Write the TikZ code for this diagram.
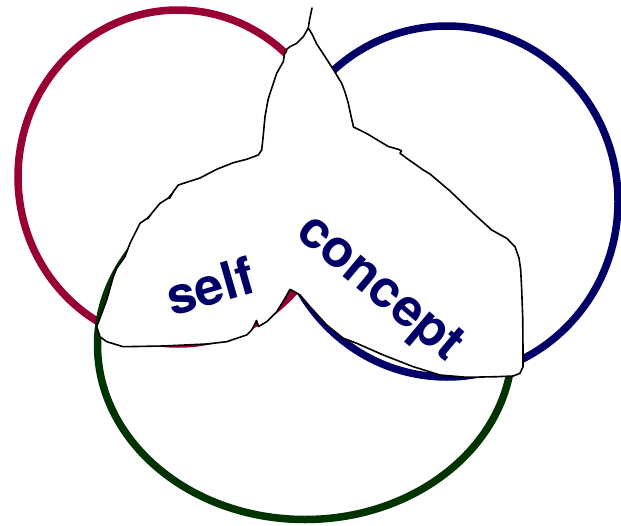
\documentclass[tikz,border=0pt]{standalone}
\usepackage{fontspec}
\setsansfont{TeX Gyre Heros}
\definecolor{ringred}{HTML}{990033}
\definecolor{ringblue}{HTML}{000066}
\definecolor{ringgreen}{HTML}{003300}
\definecolor{labelnavy}{HTML}{000066}
\begin{document}
\begin{tikzpicture}[x=1pt,y=-1pt,
  ring/.style={line width=7.5pt},
  blob/.style={fill=white,draw=black,line width=1.6pt,line join=round,line cap=round},
  word/.style={text=labelnavy,font=\sffamily\bfseries\fontsize{52}{52}\selectfont,inner sep=0pt}]
\useasboundingbox (0,0) rectangle (621,525);
\draw[ring,ringred] (178,177) ellipse [x radius=160pt, y radius=167pt];
\draw[ring,ringblue] (447,201.5) ellipse [x radius=171pt, y radius=175.5pt];
\draw[ring,ringgreen] (305,345) ellipse [x radius=207.5pt, y radius=174.5pt];
\coordinate (J) at (308.3,28);
\coordinate (T) at (312,8);
\draw[blob] (J) -- (312,34) -- (316.7,44) -- (322,52) -- (333,69) -- (341.7,83.3) -- (345,92)
  -- (348.3,103.3) -- (351,116) -- (353.5,127) -- (366.7,133.5) -- (388.3,146.5) -- (399,149.5)
  -- (401.5,151) -- (400,153.3) -- (406.7,158.3) -- (423.3,170) -- (430,174) -- (450,191)
  -- (473.3,213.3) -- (491.7,230) -- (506.7,238.3) -- (515,246.7) -- (519,258) -- (520.7,270)
  -- (521.7,290) -- (522.7,316.7) -- (523,350) -- (523,366.7) -- (520,373.3) -- (513.3,376)
  -- (496.7,376.7) -- (466.7,377.3) -- (440,375) -- (413.3,366.7) -- (383.3,355) -- (356.7,343.3)
  -- (346.7,339.5) -- (343.3,338.3) -- (326.7,325) -- (310,306.7) -- (300,295) -- (296.7,293)
  -- (290,289.3) -- (285,298.3) -- (276.7,311.7) -- (266.7,321.7) -- (258.5,326.5) -- (256.5,320.5)
  -- (253.3,327) -- (251.7,330) -- (246.7,335) -- (236.7,338.3) -- (226.7,341.7) -- (206.7,344)
  -- (163.3,346) -- (123.3,346.7) -- (106.7,341.7) -- (100,336.7) -- (96.7,326.7) -- (100,318)
  -- (106.7,300) -- (113.3,276.7) -- (116.7,268.3) -- (125,256.7) -- (130,243.3) -- (136.7,230)
  -- (140,223.3) -- (147,218.5) -- (151,214.5) -- (147.5,219) -- (151.7,213.3) -- (160,203.3)
  -- (168,198.3) -- (173,192.5) -- (169.5,198.5) -- (173.3,191.7) -- (178.3,185) -- (200,178)
  -- (216.7,169.3) -- (233.3,162.7) -- (246.7,159.3) -- (258.3,155) -- (261.7,150) -- (263.3,135)
  -- (265,116.7) -- (268,100) -- (270,93.3) -- (276.7,73.3) -- (283.3,61.7) -- (284.5,54)
  -- (286,52) -- (287,49) -- (290,46.7) -- (296.7,43.3) -- (303.3,36.7) -- cycle;
\draw[blob] (J) -- (309.5,20) -- (T);
\node[word,rotate=16] (self) at (210,286) {self};
\node[word,rotate=-40] (concept) at (378,290) {concept};
\end{tikzpicture}
\end{document}
